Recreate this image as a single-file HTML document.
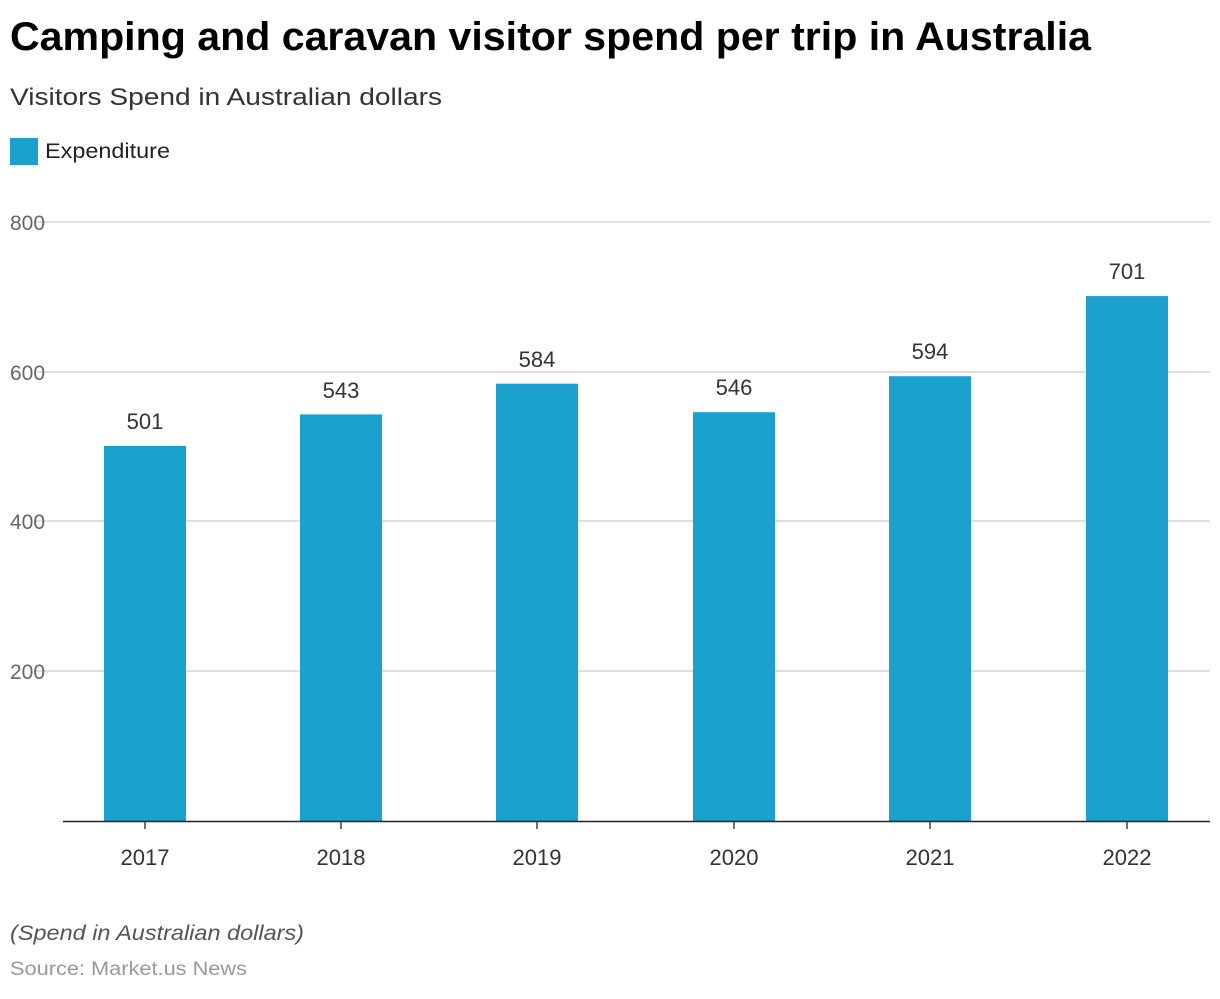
<!DOCTYPE html>
<html><head><meta charset="utf-8"><style>
body{margin:0;background:#fff;font-family:"Liberation Sans",sans-serif;}
</style></head><body>
<svg width="1220" height="994" xmlns="http://www.w3.org/2000/svg" font-family="Liberation Sans, sans-serif">
<text x="10" y="50" font-size="40" font-weight="bold" fill="#000" textLength="1081" lengthAdjust="spacingAndGlyphs">Camping and caravan visitor spend per trip in Australia</text>
<text x="10" y="105" font-size="24" fill="#333" textLength="432" lengthAdjust="spacingAndGlyphs">Visitors Spend in Australian dollars</text>
<rect x="10" y="138" width="28" height="27" fill="#1aa1ce"/>
<text x="45" y="158" font-size="21" fill="#222" textLength="125" lengthAdjust="spacingAndGlyphs">Expenditure</text>
<g stroke="#ccc" stroke-width="1.3">
<line x1="35" x2="1210" y1="222" y2="222"/>
<line x1="35" x2="1210" y1="372" y2="372"/>
<line x1="35" x2="1210" y1="521" y2="521"/>
<line x1="35" x2="1210" y1="671" y2="671"/>
</g>
<g font-size="21" fill="#666">
<text x="10" y="230">800</text>
<text x="10" y="380">600</text>
<text x="10" y="529">400</text>
<text x="10" y="679">200</text>
</g>
<g fill="#1aa1ce">
<rect x="104" y="446" width="82" height="375"/>
<rect x="300" y="414.4" width="82" height="406.6"/>
<rect x="496" y="383.7" width="82" height="437.3"/>
<rect x="693" y="412.2" width="82" height="408.8"/>
<rect x="889" y="376.2" width="82" height="444.8"/>
<rect x="1086" y="296.1" width="82" height="524.9"/>
</g>
<line x1="63" x2="1210" y1="821.5" y2="821.5" stroke="#222" stroke-width="1.5"/>
<g stroke="#222" stroke-width="1.3">
<line x1="145" x2="145" y1="821" y2="829"/><line x1="341" x2="341" y1="821" y2="829"/>
<line x1="537" x2="537" y1="821" y2="829"/><line x1="734" x2="734" y1="821" y2="829"/>
<line x1="930" x2="930" y1="821" y2="829"/><line x1="1127" x2="1127" y1="821" y2="829"/>
</g>
<g font-size="22" fill="#333" text-anchor="middle">
<text x="145" y="429">501</text><text x="341" y="398">543</text><text x="537" y="367">584</text>
<text x="734" y="395">546</text><text x="930" y="359">594</text><text x="1127" y="279">701</text>
<text x="145" y="865">2017</text><text x="341" y="865">2018</text><text x="537" y="865">2019</text>
<text x="734" y="865">2020</text><text x="930" y="865">2021</text><text x="1127" y="865">2022</text>
</g>
<text x="10" y="940" font-size="21" font-style="italic" fill="#555" textLength="294" lengthAdjust="spacingAndGlyphs">(Spend in Australian dollars)</text>
<text x="10" y="975" font-size="19" fill="#999" textLength="237" lengthAdjust="spacingAndGlyphs">Source: Market.us News</text>
</svg>
</body></html>
